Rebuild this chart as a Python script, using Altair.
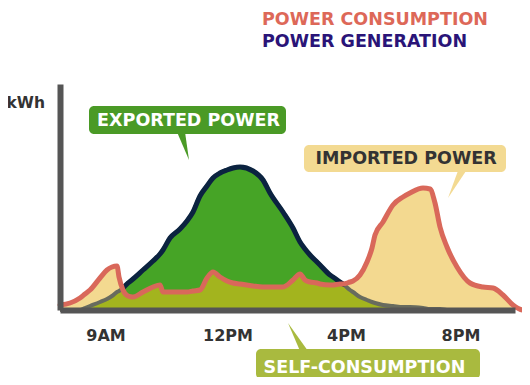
import altair as alt
import pandas as pd

# ---- data (x = position along the day, y = energy, arbitrary units) ----
T = [0, 10, 20, 25, 30, 40, 47, 52, 57, 59, 63, 68, 73, 83, 93, 100, 103, 110, 120, 127,
     133, 140, 147, 153, 160, 167, 173, 180, 193, 203, 210, 223, 233, 240, 245, 250, 257, 260, 270, 273,
     280, 283, 290, 293, 300, 307, 312, 315, 323, 333, 343, 350, 363, 370, 375, 380, 387, 397, 410, 423,
     433, 443, 453, 463, 470]
GEN = [0, 0, 0, 2, 4, 8, 11, 14, 18, 19, 22, 27, 31, 40, 49, 56, 60, 72, 81, 89,
       98, 114, 124, 132, 137, 140, 142, 143, 139, 130, 117, 98, 82, 68, 61, 55, 48, 45, 35, 33,
       28, 26, 20, 18, 13, 10, 8, 7, 5, 4, 3, 3, 2, 1, 1, 1, 0, 0, None, None,
       None, None, None, None, None]
CONS = [5, 7, 12, 16, 20, 32, 40, 43, 44, 33, 20, 14, 13, 18, 23, 25, 18, 18, 18, 18,
        19, 20, 32, 38, 33, 29, 27, 26, 24, 23, 23, 23, 30, 36, 30, 28, 27, 26, 25, 25,
        26, 26, 28, 29, 35, 48, 62, 75, 88, 105, 113, 117, 122, 121, 107, 83, 63, 43, 27, 23,
        22, 15, 5, 0, 0]

TICK_POS = [45.5, 167.5, 286, 400.5]
TICK_LABELS = ["9AM", "12PM", "4PM", "8PM"]
LEGEND_LABELS = ["POWER CONSUMPTION", "POWER GENERATION"]
UNIT_LABEL = "kWh"
EXPORT_LABEL = "EXPORTED POWER"
IMPORT_LABEL = "IMPORTED POWER"
SELF_LABEL = "SELF-CONSUMPTION"

FONT = "DejaVu Sans"
C_RED = "#d9685a"
C_NAVY = "#0b2340"
C_GREY_LINE = "#686b5e"
C_GREEN = "#46a426"
C_OLIVE = "#a3b41e"
C_YELLOW = "#f3d990"
C_AXIS = "#555555"

df = pd.DataFrame({"t": T, "gen": GEN, "cons": CONS})

xs = alt.Scale(domain=[0, 455], nice=False)
ys = alt.Scale(domain=[0, 226], nice=False)

label_expr = "[{}][indexof([{}], datum.value)]".format(
    ",".join("'%s'" % s for s in TICK_LABELS), ",".join(str(v) for v in TICK_POS))

x_axis = alt.Axis(values=TICK_POS, labelExpr=label_expr, domain=True, domainColor=C_AXIS,
                  domainWidth=6, ticks=False, tickSize=0, grid=False, labelPadding=30,
                  labelBaseline="alphabetic", labelFont=FONT, labelFontSize=16,
                  labelFontWeight="bold", labelColor="#333333", title=None, zindex=1,
                  labelFlush=False, labelOverlap=False)
y_axis = alt.Axis(domain=True, domainColor=C_AXIS, domainWidth=6, ticks=False, labels=False,
                  grid=False, title=None, zindex=1)

X = alt.X("t:Q", scale=xs, axis=x_axis)

def Y(field):
    return alt.Y(field, scale=ys, axis=y_axis)

base = alt.Chart(df)

imported_area = base.mark_area(color=C_YELLOW, interpolate="monotone").encode(x=X, y=Y("cons:Q"))
gen_area = base.transform_filter("isValid(datum.gen)").mark_area(
    color=C_GREEN, interpolate="monotone").encode(x=X, y=Y("gen:Q"))
self_area = base.transform_calculate(
    m="min(isValid(datum.gen) ? datum.gen : 0, datum.cons)"
).mark_area(color=C_OLIVE, interpolate="monotone").encode(x=X, y=Y("m:Q"))
gen_grey = base.transform_filter("isValid(datum.gen)").mark_line(
    color=C_GREY_LINE, strokeWidth=4, interpolate="monotone").encode(x=X, y=Y("gen:Q"))
gen_navy = base.transform_filter("isValid(datum.gen) && datum.gen >= datum.cons").mark_line(
    color=C_NAVY, strokeWidth=5, interpolate="monotone", strokeCap="round", strokeJoin="round"
).encode(x=X, y=Y("gen:Q"))
cons_line = base.mark_line(color=C_RED, strokeWidth=5, interpolate="monotone",
                           strokeCap="round", strokeJoin="round").encode(x=X, y=Y("cons:Q"))

one = pd.DataFrame({"a": [0]})

def box(x1, x2, y1, y2, color):
    return alt.Chart(one).mark_rect(color=color, cornerRadius=5).encode(
        x=alt.value(x1), x2=alt.value(x2), y=alt.value(y1), y2=alt.value(y2))

def pointer(x, y, path, color):
    return alt.Chart(one).mark_point(shape=path, size=4, filled=True, color=color,
                                     opacity=1, strokeWidth=0).encode(
        x=alt.value(x), y=alt.value(y))

def label(s, x, y, color, size=17.5, align="left"):
    return alt.Chart(pd.DataFrame({"s": [s]})).mark_text(
        font=FONT, fontWeight="bold", fontSize=size, color=color, align=align,
        baseline="alphabetic").encode(x=alt.value(x), y=alt.value(y), text="s:N")

layers = [
    imported_area, gen_area, self_area, gen_grey, gen_navy, cons_line,
    # exported power callout
    box(29, 226, 22, 50, "#4a9a26"),
    pointer(123, 63, "M-6,-15L2,-15L6,13Z", "#4a9a26"),
    label(EXPORT_LABEL, 128.5, 42, "white", align="center"),
    # imported power callout
    box(244, 446, 61, 88, "#f3da92"),
    pointer(398, 100, "M1,-16L10,-16L-10,14Z", "#f3da92"),
    label(IMPORT_LABEL, 346, 80, "#333333", align="center"),
    # self-consumption callout
    box(196, 420, 265, 295, "#a9ba3f"),
    pointer(238, 253, "M2,14L10,14L-10,-14Z", "#a9ba3f"),
    label(SELF_LABEL, 304.5, 288.5, "white", align="center"),
    # legend texts and unit
    label(LEGEND_LABELS[0], 202, -59.5, "#dd6858"),
    label(LEGEND_LABELS[1], 202, -37.3, "#2a1478"),
    label(UNIT_LABEL, -15, 24, "#333333", size=15.5, align="right"),
]

chart = alt.layer(*layers).properties(
    width=455, height=226,
    autosize=alt.AutoSizeParams(type="none"),
    padding={"left": 52, "top": 76, "right": 7, "bottom": 67},
).configure_view(stroke=None)

chart.save("out.html", embed_options={"renderer": "svg", "actions": False})
